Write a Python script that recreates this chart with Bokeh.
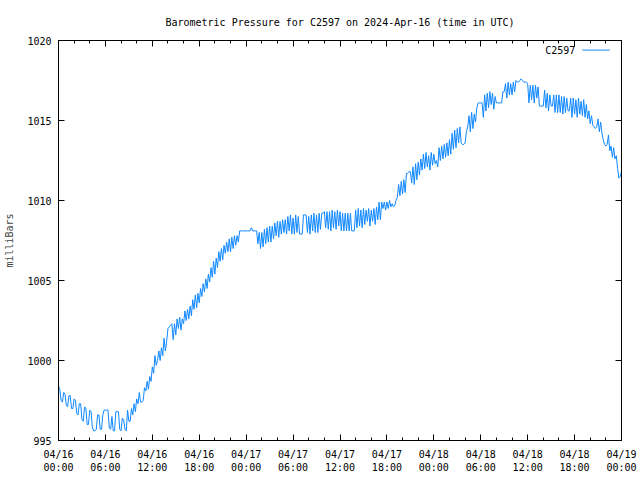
from bokeh.plotting import figure
from bokeh.models import Range1d, FixedTicker, LinearAxis, Label
from bokeh.embed import file_html
from bokeh.resources import INLINE

TITLE = "Barometric Pressure for C2597 on 2024-Apr-16 (time in UTC)"
SERIES_NAME = "C2597"
Y_LABEL = "milliBars"

tick_hours = [0, 6, 12, 18, 24, 30, 36, 42, 48, 54, 60, 66, 72]
tick_labels = ["04/16\n00:00", "04/16\n06:00", "04/16\n12:00", "04/16\n18:00",
               "04/17\n00:00", "04/17\n06:00", "04/17\n12:00", "04/17\n18:00",
               "04/18\n00:00", "04/18\n06:00", "04/18\n12:00", "04/18\n18:00",
               "04/19\n00:00"]
minor_hours = list(range(0, 73, 2))
y_ticks = [995, 1000, 1005, 1010, 1015, 1020]

step_minutes = 10
# one row per hour, readings every 10 minutes (mb)
pressure = [
    998.4, 998.2, 997.5, 997.4, 998.0, 997.9,
    997.2, 997.1, 997.8, 997.8, 997.0, 997.0,
    997.6, 997.5, 996.7, 996.6, 997.3, 997.3,
    996.3, 996.2, 997.1, 997.0, 996.0, 996.0,
    996.9, 996.8, 995.8, 995.6, 995.6, 995.7,
    996.6, 996.6, 995.7, 995.7, 996.6, 996.9,
    996.9, 996.9, 996.9, 995.8, 995.7, 996.5,
    995.6, 995.6, 996.8, 996.8, 996.8, 995.7,
    995.6, 996.4, 996.3, 995.7, 995.6, 996.9,
    996.2, 996.2, 997.0, 996.6, 997.3, 996.8,
    997.6, 997.3, 998.0, 997.4, 997.4, 997.5,
    998.3, 998.1, 998.7, 998.2, 999.0, 998.7,
    999.6, 999.2, 1000.3, 999.7, 1000.0, 1000.6,
    1000.0, 1000.8, 1000.3, 1001.4, 1000.6, 1001.2,
    1002.0, 1002.1, 1002.2, 1002.3, 1001.3, 1002.3,
    1001.6, 1002.6, 1002.0, 1002.7, 1001.9, 1002.6,
    1002.3, 1003.1, 1002.5, 1003.2, 1002.6, 1003.4,
    1002.8, 1003.8, 1003.2, 1004.1, 1003.3, 1004.2,
    1003.6, 1004.5, 1004.0, 1004.8, 1004.3, 1005.1,
    1004.5, 1005.4, 1004.9, 1005.8, 1005.2, 1006.2,
    1005.4, 1006.4, 1005.8, 1006.8, 1006.2, 1007.0,
    1006.3, 1007.2, 1006.7, 1007.4, 1006.8, 1007.6,
    1006.8, 1007.7, 1007.0, 1007.8, 1007.2, 1007.8,
    1007.4, 1008.1, 1008.1, 1008.1, 1008.1, 1008.1,
    1008.1, 1008.1, 1008.1, 1008.1, 1008.3, 1008.1,
    1008.1, 1008.1, 1008.1, 1007.3, 1008.0, 1007.0,
    1008.0, 1007.1, 1008.2, 1007.3, 1008.3, 1007.4,
    1008.4, 1007.4, 1008.4, 1007.6, 1008.6, 1007.8,
    1008.7, 1007.7, 1008.7, 1007.9, 1008.8, 1008.0,
    1008.8, 1007.9, 1009.0, 1008.1, 1009.1, 1007.9,
    1008.9, 1007.9, 1009.1, 1008.0, 1009.0, 1007.9,
    1007.9, 1007.9, 1009.1, 1009.1, 1009.1, 1008.0,
    1009.0, 1007.9, 1009.1, 1008.1, 1009.2, 1008.0,
    1009.1, 1008.0, 1009.2, 1008.2, 1009.2, 1009.2,
    1009.3, 1008.3, 1009.3, 1008.2, 1009.3, 1008.1,
    1009.4, 1008.3, 1009.3, 1008.2, 1009.4, 1008.4,
    1009.3, 1008.1, 1009.2, 1008.1, 1009.2, 1008.1,
    1009.2, 1008.1, 1009.2, 1008.1, 1008.1, 1008.1,
    1009.4, 1008.3, 1009.5, 1008.4, 1009.4, 1008.3,
    1009.5, 1008.5, 1009.4, 1008.7, 1009.5, 1008.4,
    1009.4, 1008.7, 1009.5, 1008.5, 1009.6, 1008.8,
    1009.9, 1008.8, 1009.9, 1009.5, 1009.9, 1009.4,
    1009.9, 1009.5, 1010.0, 1009.6, 1009.8, 1009.6,
    1009.7, 1010.0, 1010.2, 1011.0, 1010.3, 1011.2,
    1010.4, 1011.3, 1010.5, 1011.7, 1011.7, 1011.8,
    1011.8, 1011.1, 1012.1, 1011.0, 1012.3, 1011.3,
    1012.4, 1011.6, 1012.6, 1011.9, 1012.9, 1012.0,
    1013.0, 1012.1, 1012.8, 1011.9, 1013.0, 1012.2,
    1012.9, 1012.3, 1012.5, 1012.1, 1013.3, 1012.5,
    1013.4, 1012.6, 1013.5, 1012.7, 1013.6, 1012.8,
    1013.8, 1012.9, 1014.2, 1013.2, 1014.4, 1013.3,
    1014.5, 1013.6, 1014.6, 1013.6, 1013.5, 1013.5,
    1013.6, 1014.3, 1014.6, 1015.3, 1014.3, 1015.5,
    1014.5, 1015.4, 1014.9, 1015.8, 1016.1, 1016.1,
    1016.1, 1016.1, 1015.2, 1016.6, 1015.6, 1016.7,
    1015.8, 1016.8, 1016.0, 1016.7, 1015.7, 1016.5,
    1016.1, 1016.1, 1016.1, 1016.1, 1016.1, 1016.8,
    1016.8, 1017.3, 1016.4, 1017.4, 1016.6, 1017.3,
    1016.6, 1017.4, 1016.8, 1017.5, 1017.4, 1017.4,
    1017.5, 1017.6, 1017.5, 1017.4, 1017.4, 1017.4,
    1017.3, 1016.1, 1017.2, 1016.3, 1017.2, 1016.1,
    1017.2, 1016.4, 1017.1, 1015.9, 1015.9, 1015.9,
    1015.9, 1016.9, 1015.8, 1016.7, 1015.6, 1016.6,
    1015.9, 1015.9, 1016.6, 1015.5, 1016.6, 1015.5,
    1016.6, 1015.5, 1016.5, 1015.4, 1016.5, 1015.5,
    1016.4, 1015.6, 1015.6, 1016.4, 1015.2, 1016.4,
    1015.4, 1016.3, 1015.2, 1016.4, 1015.4, 1016.2,
    1015.3, 1016.3, 1015.2, 1016.0, 1015.1, 1015.6,
    1014.8, 1015.3, 1014.7, 1014.6, 1014.5, 1014.6,
    1015.1, 1014.3, 1014.9, 1014.2, 1013.8, 1013.5,
    1013.4, 1013.5, 1014.1, 1013.1, 1013.4, 1012.7,
    1013.3, 1012.6, 1012.8, 1012.0, 1011.4, 1011.5,
    1011.8,
]
hours = [i * step_minutes / 60 for i in range(len(pressure))]

FONT = "DejaVu Sans Mono"
FS = "10px"
LINE_COLOR = "#1188ff"

p = figure(width=640, height=480, output_backend="svg", toolbar_location=None,
           x_range=Range1d(0, 72), y_range=Range1d(995, 1020),
           title=TITLE,
           min_border_left=58, min_border_right=19, min_border_top=40, min_border_bottom=40)

p.title.align = "center"
p.title.text_font = FONT
p.title.text_font_size = FS
p.title.text_font_style = "normal"
p.title.text_color = "black"
p.title.standoff = 25

p.grid.visible = False
p.outline_line_color = "black"
p.outline_line_width = 1
p.background_fill_color = "white"
p.border_fill_color = "white"

xt = FixedTicker(ticks=tick_hours, minor_ticks=minor_hours)
yt = FixedTicker(ticks=y_ticks, minor_ticks=[])

for ax in p.xaxis:
    ax.ticker = xt
    ax.major_label_overrides = {h: lab for h, lab in zip(tick_hours, tick_labels)}
    ax.major_label_standoff = 8
for ax in p.yaxis:
    ax.ticker = yt
    ax.axis_label = Y_LABEL
    ax.axis_label_standoff = 9
    ax.major_label_standoff = 7

for ax in list(p.xaxis) + list(p.yaxis):
    ax.major_tick_in = 6
    ax.major_tick_out = 0
    ax.minor_tick_in = 3
    ax.minor_tick_out = 0
    ax.major_label_text_font = FONT
    ax.major_label_text_font_size = FS
    ax.major_label_text_color = "black"
    ax.axis_label_text_font = FONT
    ax.axis_label_text_font_size = FS
    ax.axis_label_text_font_style = "normal"
    ax.axis_line_color = "black"
    ax.major_tick_line_color = "black"
    ax.minor_tick_line_color = "black"

# mirrored tick marks on top and right (no labels)
top = LinearAxis(ticker=xt, major_tick_in=6, major_tick_out=0, minor_tick_in=3, minor_tick_out=0,
                 major_label_text_color=None, major_label_text_font_size="1px",
                 major_label_standoff=0)
right = LinearAxis(ticker=yt, major_tick_in=6, major_tick_out=0, minor_tick_in=3, minor_tick_out=0,
                   major_label_text_color=None, major_label_text_font_size="1px",
                   major_label_standoff=0)
p.add_layout(top, "above")
p.add_layout(right, "right")

p.line(hours, pressure, line_color=LINE_COLOR, line_width=1)

# legend (gnuplot style: label then sample)
legend_y = 1019.4
p.add_layout(Label(x=66.1, y=legend_y, text=SERIES_NAME, text_align="right", text_baseline="middle",
                   text_font=FONT, text_font_size=FS, text_color="black"))
p.segment(x0=[67.0], y0=[legend_y], x1=[70.5], y1=[legend_y], line_color=LINE_COLOR, line_width=1)

open("out.html", "w").write(file_html(p, INLINE))
